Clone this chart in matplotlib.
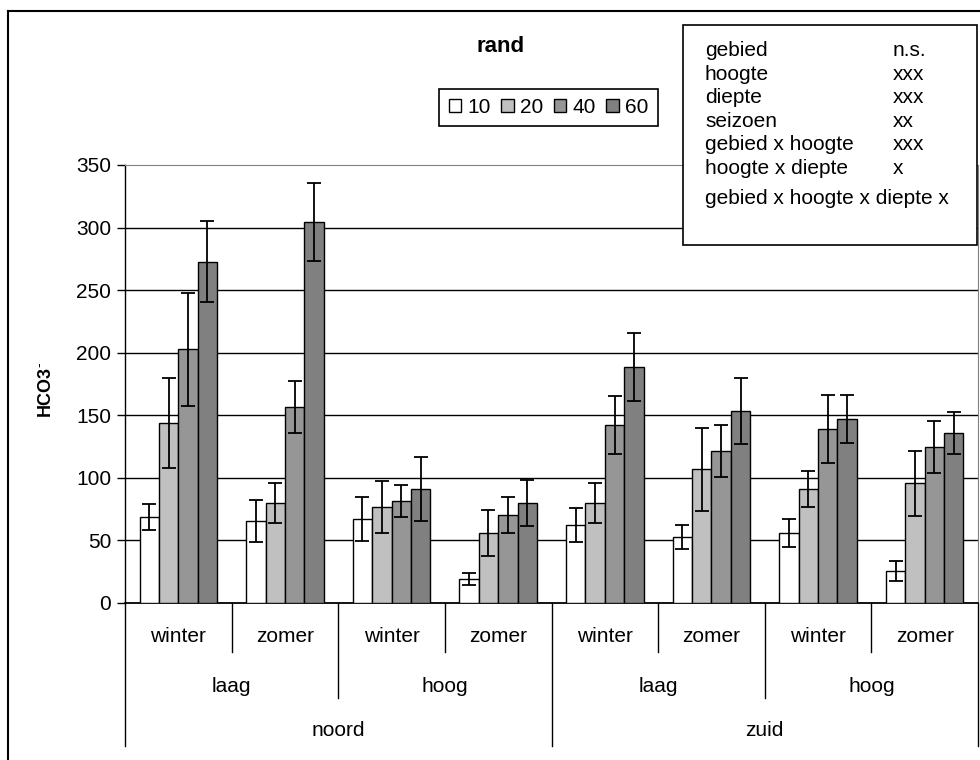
"""
plot.py - HCO3- per diepte, rand
"""

import matplotlib
matplotlib.use("Agg")
import matplotlib.pyplot as plt
from matplotlib.patches import Patch, Rectangle
from matplotlib.lines import Line2D
import numpy as np

plt.rcParams['font.family'] = ['Liberation Sans', 'DejaVu Sans']

#============================================
# DATA
#============================================

gebied = ['noord', 'zuid']
hoogte = ['laag', 'hoog']
seizoen = ['winter', 'zomer']
diepte = ['10', '20', '40', '60']

# one value per group: noord-laag-winter, noord-laag-zomer, noord-hoog-winter, ...
mean_10 = [68.5, 65.3, 66.9, 18.9, 62.1, 52.5, 55.7, 25.3]
mean_20 = [143.6, 79.7, 76.5, 55.7, 79.7, 106.8, 90.8, 95.6]
mean_40 = [202.7, 156.4, 81.3, 70.1, 142.0, 121.2, 138.8, 124.4]
mean_60 = [272.8, 304.7, 90.8, 79.7, 188.4, 153.2, 146.8, 135.6]

err_10 = [10.4, 16.8, 17.6, 4.7, 13.6, 9.6, 11.2, 8.0]
err_20 = [36.0, 16.0, 20.6, 18.4, 16.0, 33.0, 14.4, 26.0]
err_40 = [44.9, 20.9, 12.9, 14.4, 23.2, 20.8, 27.2, 20.8]
err_60 = [32.2, 31.3, 25.6, 18.4, 27.2, 26.4, 19.2, 16.8]

stat_terms = ['gebied', 'hoogte', 'diepte', 'seizoen', 'gebied x hoogte',
              'hoogte x diepte']
stat_signif = ['n.s.', 'xxx', 'xxx', 'xx', 'xxx', 'x']
stat_last = 'gebied x hoogte x diepte x'

y_ticks = [0, 50, 100, 150, 200, 250, 300, 350]

means = [mean_10, mean_20, mean_40, mean_60]
errs = [err_10, err_20, err_40, err_60]
colors = ['#FFFFFF', '#C0C0C0', '#969696', '#808080']

#============================================
# LAYOUT (pixels of a 980x760 figure)
#============================================

W, H = 980, 760
AX_L, AX_R, AX_T, AX_B = 125, 978, 165, 603


def fx(px):
    return px / W


def fy(py):
    return 1 - py / H


def ay(py):
    # pixel row -> axes fraction (below the axis is negative)
    return (AX_B - py) / (AX_B - AX_T)


fig = plt.figure(figsize=(W / 100, H / 100), dpi=100)
ax = fig.add_axes([fx(AX_L), fy(AX_B), fx(AX_R - AX_L), (AX_B - AX_T) / H])

#============================================
# BARS
#============================================

n_groups = len(gebied) * len(hoogte) * len(seizoen)
bar_w = 1 / 5.5
x0 = np.arange(n_groups) + 0.5

for i, (m, e, c) in enumerate(zip(means, errs, colors)):
    ax.bar(x0 + (i - 1.5) * bar_w, m, bar_w, color=c, edgecolor='black',
           linewidth=1.0, yerr=e, capsize=4.7, zorder=3,
           error_kw=dict(elinewidth=1.3, capthick=1.3, ecolor='black'))

ax.set_xlim(0, n_groups)
ax.set_ylim(0, 350)
ax.set_yticks(y_ticks)
ax.set_xticks([])
for t in y_ticks[1:-1]:
    ax.axhline(t, color='black', lw=1.0, zorder=1)

ax.tick_params(axis='y', direction='out', length=6, width=1, labelsize=15, pad=4)
ax.spines['top'].set_color('#808080')
ax.spines['right'].set_color('#808080')
ax.spines['left'].set_linewidth(1.0)
ax.spines['bottom'].set_linewidth(1.3)

#============================================
# MULTI-LEVEL CATEGORY AXIS
#============================================

trans = ax.get_xaxis_transform()
for k in range(n_groups + 1):
    if k % 4 == 0:
        bottom = 746
    elif k % 2 == 0:
        bottom = 698
    else:
        bottom = 652
    ax.add_line(Line2D([k, k], [0, ay(bottom)], transform=trans,
                       color='black', lw=1.0, clip_on=False))

for k in range(n_groups):
    ax.text(k + 0.5, ay(637), seizoen[k % 2], transform=trans,
            ha='center', va='center', fontsize=15)
for k in range(n_groups // 2):
    ax.text(2 * k + 1, ay(686), hoogte[k % 2], transform=trans,
            ha='center', va='center', fontsize=15)
for k in range(len(gebied)):
    ax.text(4 * k + 2, ay(731), gebied[k], transform=trans,
            ha='center', va='center', fontsize=15)

#============================================
# TITLE, LABEL, LEGEND, STATS BOX
#============================================

fig.text(fx(501), fy(47), 'rand', ha='center', va='center',
         fontsize=16, fontweight='bold')
fig.text(fx(46), fy(390), r'HCO3$^{\text{-}}$', rotation=90, ha='center',
         va='center', fontsize=13, fontweight='bold')

handles = [Patch(facecolor=c, edgecolor='black', lw=1.0) for c in colors]
leg = fig.legend(handles, diepte, ncol=4, loc='center',
                 bbox_to_anchor=(fx(548.5), fy(107.5)), frameon=True,
                 fancybox=False, edgecolor='black', framealpha=1,
                 fontsize=15, handlelength=0.6, handleheight=0.6,
                 handletextpad=0.3, columnspacing=0.5, borderpad=0.45)
leg.get_frame().set_linewidth(1.2)

fig.add_artist(Rectangle((fx(683), fy(245)), fx(977 - 683), (245 - 25) / H,
                         transform=fig.transFigure, facecolor='white',
                         edgecolor='black', lw=1.2, zorder=5))
# text baselines inside the box
rows_y = [56, 79.5, 103, 127, 150.5, 174]
for term, sig, yy in zip(stat_terms, stat_signif, rows_y):
    fig.text(fx(705), fy(yy), term, ha='left', va='baseline', fontsize=15, zorder=6)
    fig.text(fx(893), fy(yy), sig, ha='left', va='baseline', fontsize=15, zorder=6)
fig.text(fx(705), fy(204), stat_last, ha='left', va='baseline', fontsize=15, zorder=6)

# outer chart border (left and top edges visible)
fig.add_artist(Line2D([fx(8), fx(8)], [0, fy(11)], transform=fig.transFigure,
                      color='black', lw=1.5))
fig.add_artist(Line2D([fx(8), 1], [fy(11), fy(11)], transform=fig.transFigure,
                      color='black', lw=1.5))

plt.savefig('out.png', dpi=100)
